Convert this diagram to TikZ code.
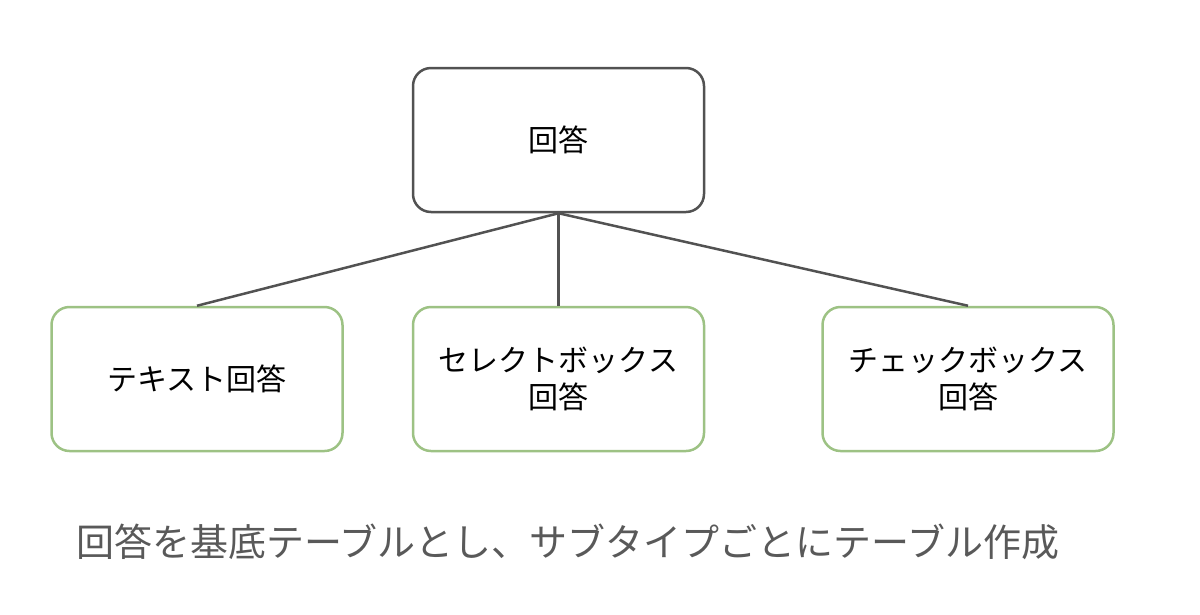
\documentclass[tikz,border=0pt]{standalone}
\usepackage{fontspec}
\setmainfont{Noto Sans CJK JP}
\begin{document}
\begin{tikzpicture}[x=1pt,y=-1pt,
  box/.style={draw,rounded corners=18pt,line width=2.5pt,minimum width=291pt,minimum height=144pt,align=center,font=\fontsize{30}{37}\selectfont,inner sep=0pt},
  top/.style={box,draw=black!68},
  link/.style={draw=black!68,line width=2.5pt}]
\useasboundingbox (0,0) rectangle (1200,614);
\definecolor{gr}{HTML}{9DC284}
\node[top] (a) at (558.5,140) {回答};
\node[box,draw=gr] (b) at (197,379) {テキスト回答};
\node[box,draw=gr] (c) at (558.5,379) {セレクトボックス\\回答};
\node[box,draw=gr] (d) at (968,379) {チェックボックス\\回答};
\draw[link] (a.south) -- (b.north);
\draw[link] (a.south) -- (c.north);
\draw[link] (a.south) -- (d.north);
\node[anchor=west,text=black!65,font=\fontsize{38}{46}\selectfont,inner sep=0pt] (t) at (76,542) {回答を基底テーブルとし、サブタイプごとにテーブル作成};
\end{tikzpicture}
\end{document}
